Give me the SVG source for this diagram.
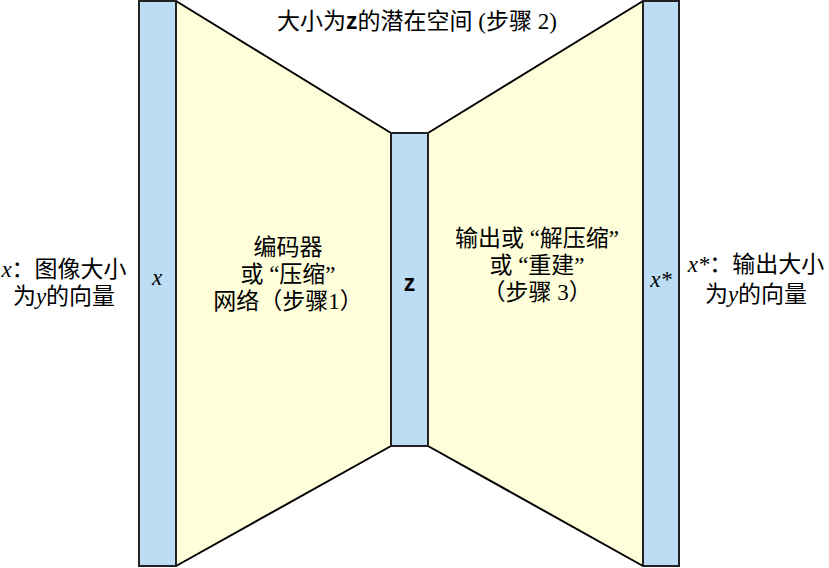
<svg xmlns="http://www.w3.org/2000/svg" width="829" height="568" viewBox="0 0 829 568">
<style>
.bar{fill:#BCDDF4;stroke:#222;stroke-width:2}
.trap{fill:#FEFEDA;stroke:none}
.edge{stroke:#000;stroke-width:2;fill:none}
.t{font-family:"Liberation Serif","Noto Sans CJK SC",serif;font-size:23px;fill:#000;text-anchor:middle}
.i{font-style:italic}
.z{font-family:"Liberation Sans",sans-serif;font-weight:bold}
</style>
<rect width="829" height="568" fill="#fff"/>
<g id="encoder">
<polygon class="trap" points="176,1 391,133 391,446 176,566"/>
<text class="t" x="288" y="255">编码器</text>
<text class="t" x="288" y="282">或  “压缩”  </text>
<text class="t" x="288" y="309">网络（步骤1）</text>
</g>
<g id="decoder">
<polygon class="trap" points="428,133 643,1 643,566 428,446"/>
<text class="t" x="537" y="246">输出或  “解压缩”  </text>
<text class="t" x="537" y="273">或  “重建”  </text>
<text class="t" x="537" y="300">（步骤 3）</text>
</g>
<g id="connectors">
<polyline class="edge" points="176,1 391,133"/>
<polyline class="edge" points="176,566 391,446"/>
<polyline class="edge" points="643,1 428,133"/>
<polyline class="edge" points="643,566 428,446"/>
</g>
<g id="input">
<rect class="bar" x="139" y="1" width="37" height="565"/>
<text class="t i" x="157" y="285">x</text>
</g>
<g id="latent">
<rect class="bar" x="391" y="133" width="37" height="313"/>
<text class="t z" x="409.5" y="291" font-size="20">z</text>
</g>
<g id="output">
<rect class="bar" x="643" y="1" width="36" height="565"/>
<text class="t i" x="661" y="287">x*</text>
</g>
<g id="labels">
<text class="t" x="417" y="29" font-size="24"><tspan>大小为</tspan><tspan class="z">z</tspan><tspan>的潜在空间 (步骤 2)</tspan></text>
<text class="t" x="64" y="277"><tspan class="i">x</tspan><tspan>：图像大小</tspan></text>
<text class="t" x="64" y="304"><tspan>为</tspan><tspan class="i">y</tspan><tspan>的向量</tspan></text>
<text class="t" x="756" y="272"><tspan class="i">x*</tspan><tspan>：输出大小</tspan></text>
<text class="t" x="756" y="302"><tspan>为</tspan><tspan class="i">y</tspan><tspan>的向量</tspan></text>
</g>
</svg>
